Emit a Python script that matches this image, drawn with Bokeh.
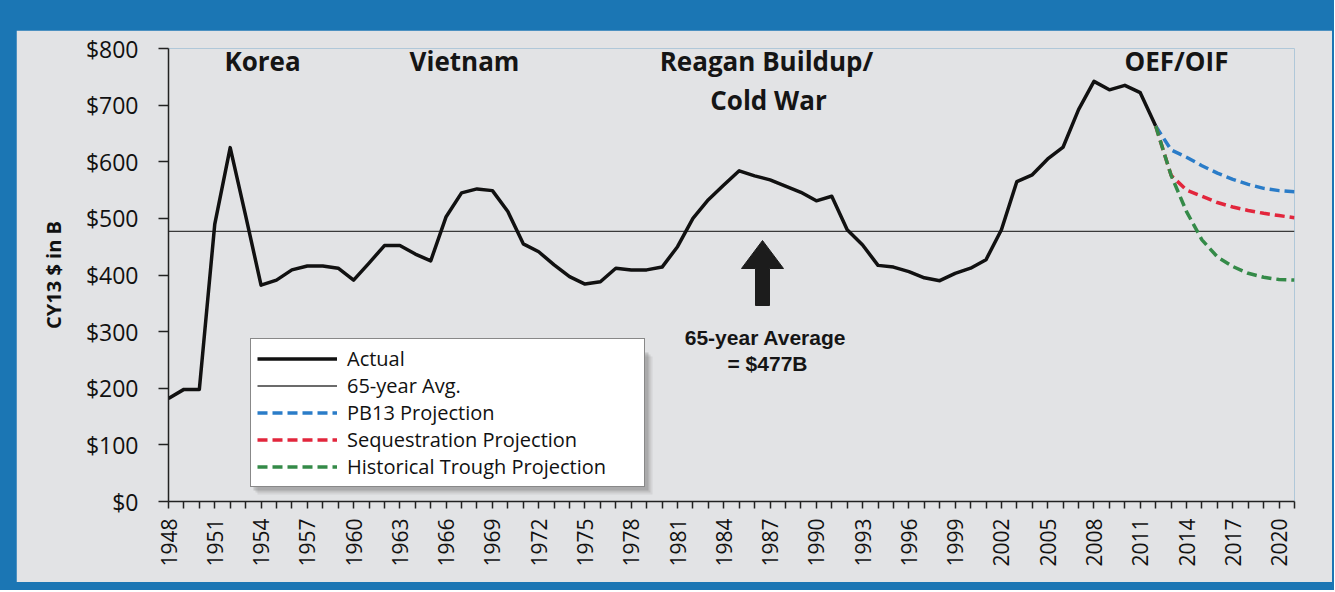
from bokeh.plotting import figure
from bokeh.models import Range1d, FixedTicker, Legend, LegendItem, NumeralTickFormatter
from bokeh.layouts import column
from bokeh.embed import file_html
from bokeh.resources import INLINE
from bokeh.core.properties import value

# ---------------- data ----------------
years_actual = list(range(1948, 2013))
actual = [182, 198, 198, 490, 625, 505, 382, 391, 409, 416,
          416, 412, 391, 421, 452, 452, 437, 425, 503, 545,
          552, 549, 512, 455, 441, 418, 397, 384, 388, 412,
          409, 409, 414, 450, 500, 533, 559, 584, 575, 568,
          557, 546, 531, 539, 480, 453, 417, 414, 406, 395,
          390, 403, 412, 427, 480, 565, 577, 605, 626, 692,
          742, 727, 735, 722, 663]
proj_years = list(range(2012, 2022))
pb13 = [663, 621, 608, 593, 580, 569, 560, 553, 549, 547]
sequestration = [663, 576, 550, 539, 528, 520, 514, 509, 505, 501]
trough = [663, 576, 512, 462, 432, 415, 403, 396, 392, 391]
avg_value = 477
avg_years = [1948, 2021]
tick_years = list(range(1948, 2022))
label_years = list(range(1948, 2021, 3))
y_ticks = list(range(0, 801, 100))
era_labels = ["Korea", "Vietnam", "Reagan Buildup/", "Cold War", "OEF/OIF"]
avg_note = ["65-year Average", "= $477B"]
legend_labels = ["Actual", "65-year Avg.", "PB13 Projection",
                 "Sequestration Projection", "Historical Trough Projection"]

# ---------------- layout constants ----------------
BLUE = "#1b76b4"
GRAY = "#e2e3e5"
FONT = "Open Sans"
X0, X1 = 1948, 2021
Y0, Y1 = 0, 800
FL, FR, FT, FB = 168, 1294, 48, 501   # frame edges in page pixels


def dx(px):
    return X0 + (px - FL) * (X1 - X0) / (FR - FL)


def dy(py):
    return Y0 + (FB - py) * (Y1 - Y0) / (FB - FT)


p = figure(width=1316, height=552, output_backend="svg", toolbar_location=None,
           x_range=Range1d(X0, X1), y_range=Range1d(Y0, Y1),
           min_border_left=152, min_border_right=38, min_border_top=18,
           min_border_bottom=81)
p.background_fill_color = GRAY
p.border_fill_color = GRAY
p.outline_line_color = None
p.xgrid.visible = False
p.ygrid.visible = False

# axes
xa = p.xaxis[0]
xa.ticker = FixedTicker(ticks=tick_years)
xa.major_label_overrides = {y: (str(y) if y in label_years else "") for y in tick_years}
xa.major_label_orientation = 3.14159265 / 2
xa.major_label_text_font = FONT
xa.major_label_text_font_size = "21px"
xa.major_label_text_color = "#111111"
xa.major_label_standoff = 10
xa.major_tick_out = 7
xa.major_tick_in = 0
xa.minor_tick_line_color = None
xa.axis_line_color = "#222222"
xa.axis_line_width = 1.5
xa.major_tick_line_color = "#222222"
xa.major_tick_line_width = 1.5

ya = p.yaxis[0]
ya.ticker = FixedTicker(ticks=y_ticks)
ya.formatter = NumeralTickFormatter(format="$0")
ya.major_label_text_font = FONT
ya.major_label_text_font_size = "23px"
ya.major_label_text_color = "#111111"
ya.major_label_standoff = 20
ya.major_tick_out = 10
ya.major_tick_in = 0
ya.minor_tick_line_color = None
ya.axis_line_color = "#222222"
ya.axis_line_width = 1.5
ya.major_tick_line_color = "#222222"
ya.major_tick_line_width = 1.5
ya.axis_label = "CY13 $ in B"
ya.axis_label_text_font = FONT
ya.axis_label_text_font_style = "bold"
ya.axis_label_text_font_size = "20px"
ya.axis_label_text_color = "#111111"
ya.axis_label_standoff = 16

# legend shadow (drawn under the legend)
for off, a in [(7, 0.10), (5, 0.14), (3, 0.22)]:
    p.quad(left=dx(250 + off), right=dx(645 + off), top=dy(349 + off), bottom=dy(487 + off),
           fill_color="#555555", fill_alpha=a, line_color=None)

# lines
r_avg = p.line(avg_years, [avg_value, avg_value], line_color="#3a3a3a", line_width=1.4)
r_act = p.line(years_actual, actual, line_color="#111111", line_width=3.5, line_join="round")
r_pb = p.line(proj_years, pb13, line_color="#2a7cc8", line_width=3.5, line_dash="10 5")
r_seq = p.line(proj_years, sequestration, line_color="#e2263c", line_width=3.5, line_dash="10 5")
r_tr = p.line(proj_years, trough, line_color="#348a48", line_width=3.5, line_dash="10 5")

# era annotations
era_px = [(262, 60), (464, 60), (766, 60), (768, 99), (1176, 60)]
p.text(x=[dx(a) for a, b in era_px], y=[dy(b) for a, b in era_px], text=era_labels,
       text_font=value(FONT), text_font_style="bold", text_font_size="26px",
       text_color="#151515", text_align="center", text_baseline="middle")

# average note
note_px = [(765, 337), (767, 363)]
p.text(x=[dx(a) for a, b in note_px], y=[dy(b) for a, b in note_px], text=avg_note,
       text_font=value("Liberation Sans"), text_font_style="bold", text_font_size="21px",
       text_color="#151515", text_align="center", text_baseline="middle")

# block arrow
tx, ty = 762, 240
arrow_px = [(0, 0), (21, 28), (7, 28), (7, 65), (-7, 65), (-7, 28), (-21, 28)]
p.patch([dx(tx + a) for a, b in arrow_px], [dy(ty + b) for a, b in arrow_px],
        fill_color="#1c1c1c", line_color="#1c1c1c", line_width=1)

legend = Legend(items=[LegendItem(label=l, renderers=[r]) for l, r in
                       zip(legend_labels, [r_act, r_avg, r_pb, r_seq, r_tr])],
                location=(82, 14))
legend.label_text_font = FONT
legend.label_text_font_size = "20px"
legend.label_text_color = "#111111"
legend.glyph_width = 80
legend.glyph_height = 25
legend.label_height = 25
legend.label_width = 291
legend.label_standoff = 10
legend.spacing = 0
legend.padding = 6
legend.margin = 0
legend.border_line_color = "#111111"
legend.border_line_width = 1.5
legend.background_fill_color = "white"
legend.background_fill_alpha = 1.0
p.add_layout(legend)

layout = column(p, styles={"background-color": BLUE, "padding": "30px 2px 8px 16px"})

open("out.html", "w").write(file_html(layout, INLINE))
